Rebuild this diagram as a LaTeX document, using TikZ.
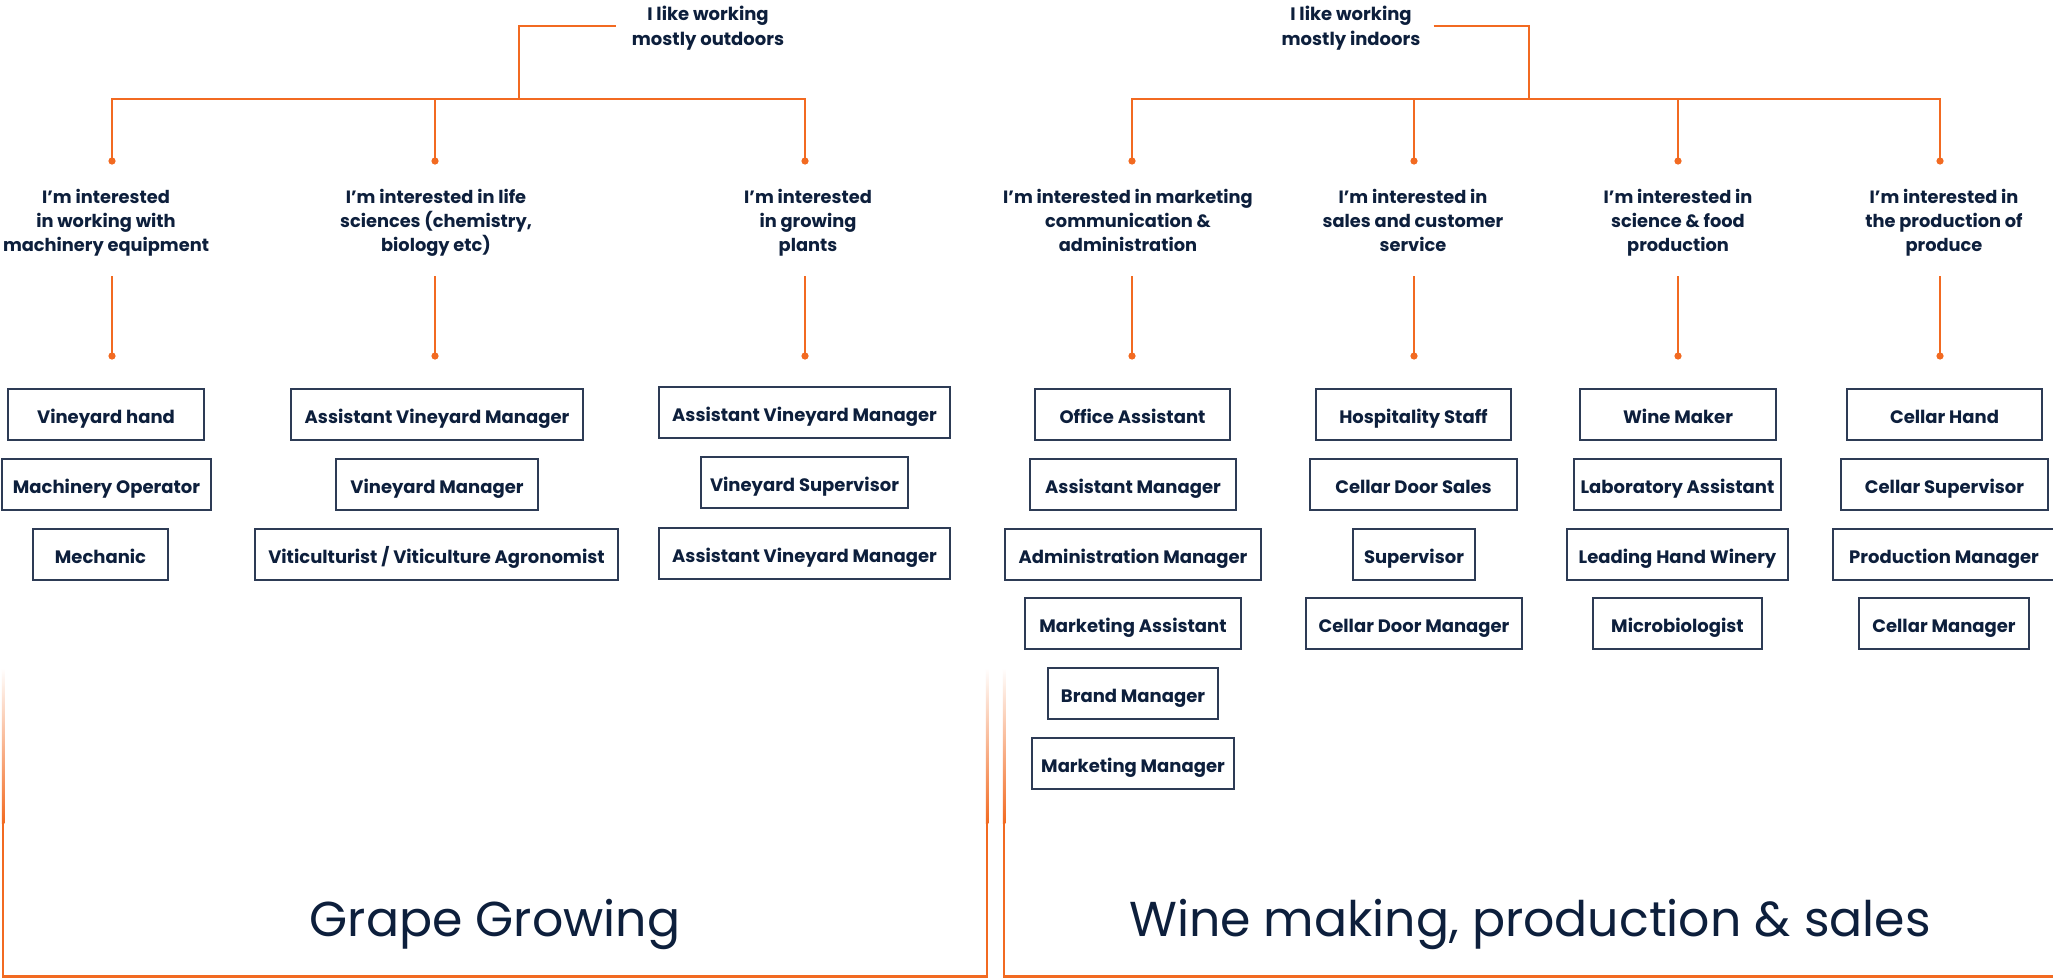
\documentclass[tikz,border=0pt]{standalone}
\usepackage{fontspec}
\setmainfont{Poppins}
\definecolor{org}{HTML}{F26A21}
\definecolor{navy}{HTML}{0D1F3C}
\definecolor{bord}{HTML}{2D3B55}
\tikzset{
  conn/.style={draw=org, line width=2pt},
  jobbox/.style={draw=bord, line width=1.4pt, inner sep=0pt, minimum height=51pt,
    text=navy, font=\bfseries\fontsize{18}{22}\selectfont, text height=21pt, text depth=3pt},
  head/.style={text=navy, font=\bfseries\fontsize{17.8}{24}\selectfont, align=center, inner sep=0pt, anchor=north},
  toptitle/.style={text=navy, font=\bfseries\fontsize{18}{25}\selectfont, align=center, inner sep=0pt},
  paneltitle/.style={text=navy, font=\fontsize{49}{53}\selectfont, inner sep=0pt, anchor=base},
}
\newcommand\jb[5]{\node[jobbox, minimum width={(#3-#2)*1pt}] (#1) at ({(#2+#3)/2},{#4+25.5}) {#5};}
\begin{document}
\begin{tikzpicture}[x=1pt,y=-1pt]
\clip (0,0) rectangle (2053,978);
\fill[white] (0,0) rectangle (2053,978);

% ---------- panels ----------
\shade[top color=white, bottom color=org] (1.75,668) rectangle (4.25,823);
\fill[org] (1.75,823) rectangle (4.25,977.5);
\shade[top color=white, bottom color=org] (985.75,668) rectangle (988.25,823);
\fill[org] (985.75,823) rectangle (988.25,977.5);
\fill[org] (1.75,975) rectangle (988.25,977.5);
\shade[top color=white, bottom color=org] (1002.75,668) rectangle (1005.25,823);
\fill[org] (1002.75,823) rectangle (1005.25,977.5);
\fill[org] (1002.75,975) rectangle (2060,977.5);
\node[paneltitle] (gg) at (495,936) {Grape Growing};
\node[paneltitle] (wm) at (1530,936) {Wine making, production \& sales};

% ---------- titles ----------
\node[toptitle] (t1) at (708,28) {I like working\\mostly outdoors};
\node[toptitle] (t2) at (1351,28) {I like working\\mostly indoors};

% ---------- junction / dot coordinates ----------
\coordinate (j1) at (519,99);
\coordinate (j2) at (1529,99);
\coordinate (d11) at (112,161);
\coordinate (d12) at (435,161);
\coordinate (d13) at (805,161);
\coordinate (d21) at (1132,161);
\coordinate (d22) at (1414,161);
\coordinate (d23) at (1678,161);
\coordinate (d24) at (1940,161);
\foreach \n/\x in {11/112,12/435,13/805,21/1132,22/1414,23/1678,24/1940}{
  \coordinate (s\n) at (\x,276);
  \coordinate (e\n) at (\x,356);
}

% ---------- connectors ----------
\draw[conn] ([xshift=-16pt]t1.west |- 0,26) -- (j1 |- 0,26) -- (j1);
\draw[conn] (d11) |- (j1) -| (d13);
\draw[conn] (d12) -- (d12 |- j1);
\draw[conn] ([xshift=13pt]t2.east |- 0,26) -- (j2 |- 0,26) -- (j2);
\draw[conn] (d21) |- (j2) -| (d24);
\draw[conn] (d22) -- (d22 |- j2);
\draw[conn] (d23) -- (d23 |- j2);
\foreach \n in {11,12,13,21,22,23,24}{
  \draw[conn] (s\n) -- (e\n);
  \fill[org] (d\n) circle (3.6pt);
  \fill[org] (e\n) circle (3.6pt);
}

% ---------- interest labels ----------
\node[head] (L11) at (106,189) {I’m interested\\in working with\\machinery equipment};
\node[head] (L12) at (436,189) {I’m interested in life\\sciences (chemistry,\\biology etc)};
\node[head] (L13) at (808,189) {I’m interested\\in growing\\plants};
\node[head] (L21) at (1128,189) {I’m interested in marketing\\communication \&\\administration};
\node[head] (L22) at (1413,189) {I’m interested in\\sales and customer\\service};
\node[head] (L23) at (1678,189) {I’m interested in\\science \& food\\production};
\node[head] (L24) at (1944,189) {I’m interested in\\the production of\\produce};

% ---------- job boxes ----------
\jb{vh}{8}{204}{389}{Vineyard hand}
\jb{mo}{2}{211}{459}{Machinery Operator}
\jb{me}{33}{168}{529}{Mechanic}
\jb{avma}{291}{583}{389}{Assistant Vineyard Manager}
\jb{vm}{336}{538}{459}{Vineyard Manager}
\jb{vit}{255}{618}{529}{Viticulturist / Viticulture Agronomist}
\jb{avmb}{659}{950}{387}{Assistant Vineyard Manager}
\jb{vs}{701}{908}{457}{Vineyard Supervisor}
\jb{avmc}{659}{950}{528}{Assistant Vineyard Manager}

\jb{oa}{1035}{1230}{389}{Office Assistant}
\jb{am}{1030}{1236}{459}{Assistant Manager}
\jb{adm}{1005}{1261}{529}{Administration Manager}
\jb{ma}{1025}{1241}{598}{Marketing Assistant}
\jb{bm}{1048}{1218}{668}{Brand Manager}
\jb{mm}{1032}{1234}{738}{Marketing Manager}

\jb{hs}{1316}{1511}{389}{Hospitality Staff}
\jb{cds}{1310}{1517}{459}{Cellar Door Sales}
\jb{sup}{1353}{1475}{529}{Supervisor}
\jb{cdm}{1306}{1522}{598}{Cellar Door Manager}

\jb{wmk}{1580}{1776}{389}{Wine Maker}
\jb{la}{1574}{1781}{459}{Laboratory Assistant}
\jb{lhw}{1567}{1788}{529}{Leading Hand Winery}
\jb{mic}{1593}{1762}{598}{Microbiologist}

\jb{ch}{1847}{2042}{389}{Cellar Hand}
\jb{cs}{1841}{2048}{459}{Cellar Supervisor}
\jb{pm}{1833}{2055}{529}{Production Manager}
\jb{cm}{1859}{2029}{598}{Cellar Manager}
\end{tikzpicture}
\end{document}
